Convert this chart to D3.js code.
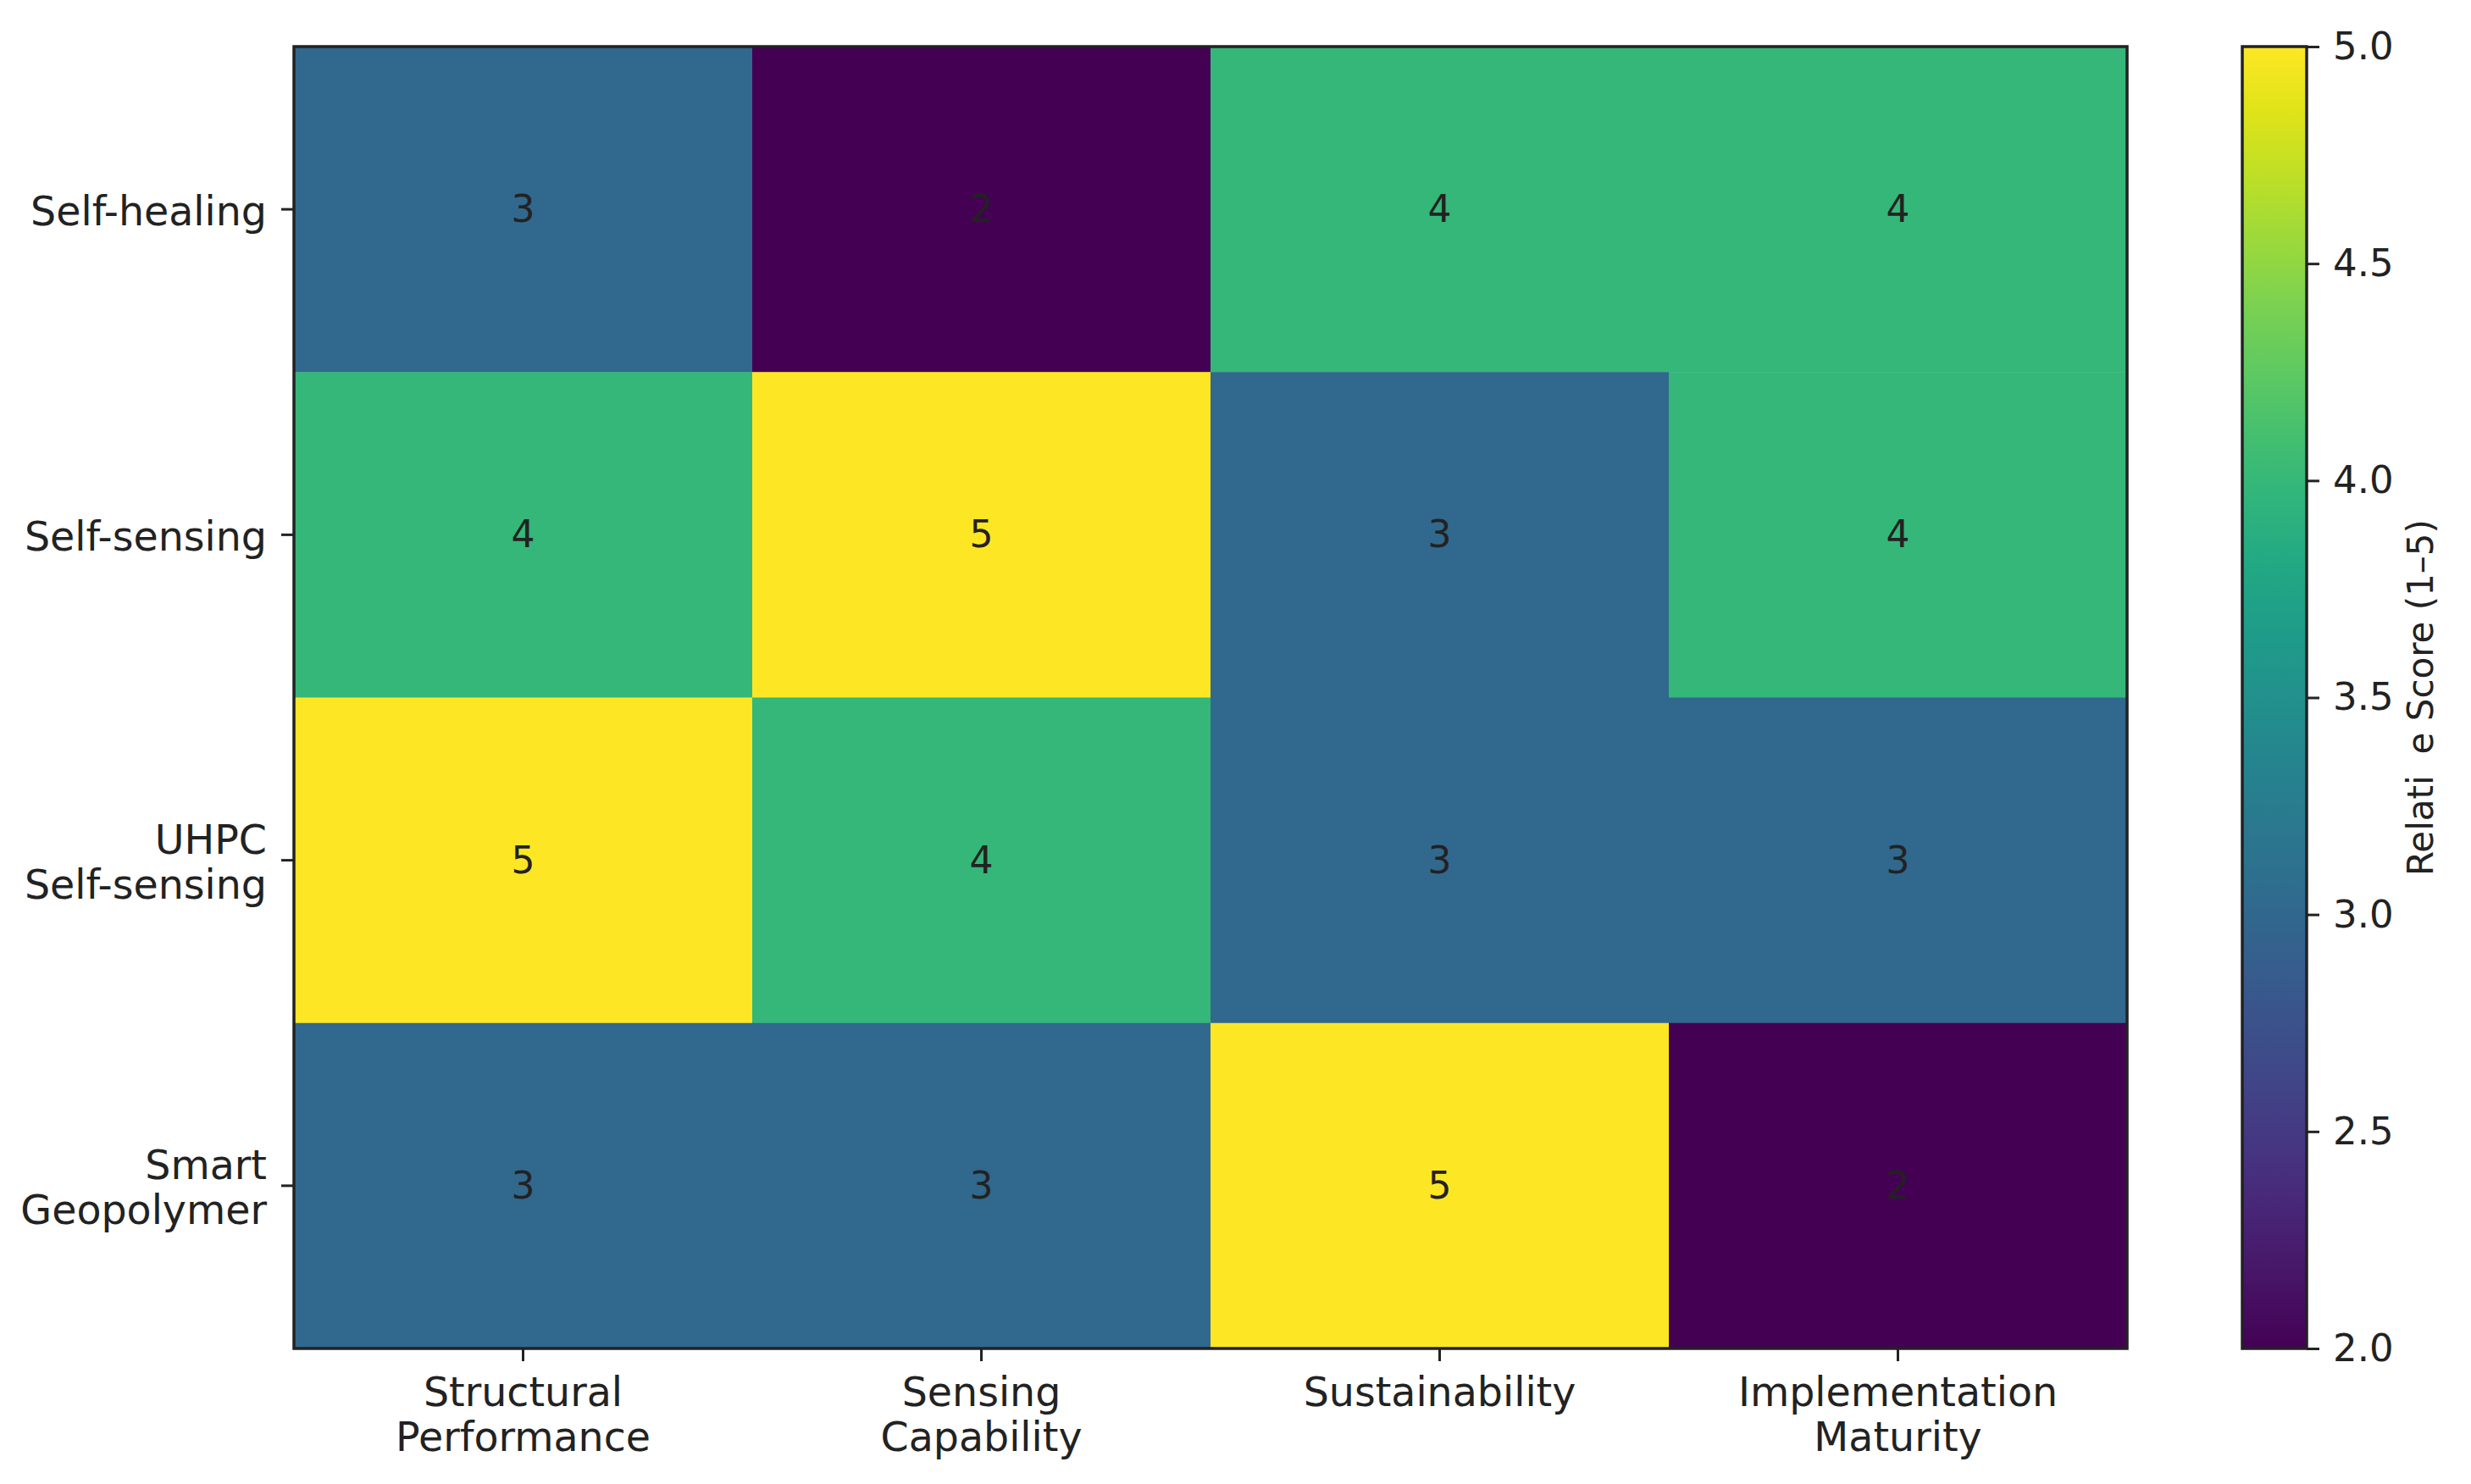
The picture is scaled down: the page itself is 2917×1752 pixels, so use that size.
<!doctype html>
<html lang="en">
<head>
    <meta charset="UTF-8" />
    <title>Concrete Technology Scores</title>
    <script src="https://d3js.org/d3.v7.min.js"></script>
    <style>
        body, html {
            margin: 0;
            padding: 0;
            background: white;
            overflow: hidden;
        }

        svg {
            display: block;
            font-family: "DejaVu Sans", sans-serif;
        }

        .tick-label {
            fill: #222;
            font-size: 47.5px;
        }

        .cell-text {
            fill: #222;
            font-size: 44px;
        }
    </style>
</head>
<body>
    <svg id="chart"></svg>

    <script>
        // data
        const materials = ["Self-healing", "Self-sensing", "UHPC\nSelf-sensing", "Smart\nGeopolymer"];
        const criteria = ["Structural\nPerformance", "Sensing\nCapability", "Sustainability", "Implementation\nMaturity"];
        const scores = [
            [3, 2, 4, 4],
            [4, 5, 3, 4],
            [5, 4, 3, 3],
            [3, 3, 5, 2]
        ];
        const colorTicks = [2.0, 2.5, 3.0, 3.5, 4.0, 4.5, 5.0];

        const width = 2917;
        const height = 1752;
        const plot = { left: 347, right: 2511, top: 55, bottom: 1592 };
        const bar = { left: 2647, right: 2723 };
        const ink = "#222";

        const svg = d3.select("#chart")
            .attr("width", width)
            .attr("height", height);

        const x = d3.scaleBand()
            .domain(d3.range(criteria.length))
            .range([plot.left, plot.right]);

        const y = d3.scaleBand()
            .domain(d3.range(materials.length))
            .range([plot.top, plot.bottom]);

        const color = d3.scaleSequential(d3.interpolateViridis).domain([2, 5]);

        const cells = [];
        scores.forEach((row, i) => row.forEach((v, j) => cells.push({ i, j, v })));

        svg.append("g")
            .selectAll("rect")
            .data(cells)
            .join("rect")
            .attr("x", d => x(d.j))
            .attr("y", d => y(d.i))
            .attr("width", x.bandwidth() + 0.5)
            .attr("height", y.bandwidth() + 0.5)
            .attr("fill", d => color(d.v));

        svg.append("g")
            .selectAll("text")
            .data(cells)
            .join("text")
            .attr("class", "cell-text")
            .attr("x", d => x(d.j) + x.bandwidth() / 2)
            .attr("y", d => y(d.i) + y.bandwidth() / 2 + 15)
            .attr("text-anchor", "middle")
            .text(d => d.v);

        // frame
        svg.append("rect")
            .attr("x", plot.left)
            .attr("y", plot.top)
            .attr("width", plot.right - plot.left)
            .attr("height", plot.bottom - plot.top)
            .attr("fill", "none")
            .attr("stroke", ink)
            .attr("stroke-width", 3.5);

        // y axis ticks + labels
        const yTicks = svg.append("g");
        materials.forEach((name, i) => {
            const cy = y(i) + y.bandwidth() / 2;
            yTicks.append("line")
                .attr("x1", plot.left - 15).attr("x2", plot.left)
                .attr("y1", cy).attr("y2", cy)
                .attr("stroke", ink).attr("stroke-width", 3);
            const lines = name.split("\n");
            const t = yTicks.append("text")
                .attr("class", "tick-label")
                .attr("text-anchor", "end");
            lines.forEach((ln, k) => {
                t.append("tspan")
                    .attr("x", plot.left - 32)
                    .attr("y", cy + 19 + (k - (lines.length - 1) / 2) * 53)
                    .text(ln);
            });
        });

        // x axis ticks + labels
        const xTicks = svg.append("g");
        criteria.forEach((name, j) => {
            const cx = x(j) + x.bandwidth() / 2;
            xTicks.append("line")
                .attr("x1", cx).attr("x2", cx)
                .attr("y1", plot.bottom).attr("y2", plot.bottom + 15)
                .attr("stroke", ink).attr("stroke-width", 3);
            const t = xTicks.append("text")
                .attr("class", "tick-label")
                .attr("text-anchor", "middle");
            name.split("\n").forEach((ln, k) => {
                t.append("tspan")
                    .attr("x", cx)
                    .attr("y", plot.bottom + 68 + k * 53)
                    .text(ln);
            });
        });

        // colorbar
        const cbY = d3.scaleLinear().domain([2, 5]).range([plot.bottom, plot.top]);

        const grad = svg.append("defs").append("linearGradient")
            .attr("id", "viridis")
            .attr("x1", 0).attr("y1", 1).attr("x2", 0).attr("y2", 0);
        d3.range(0, 1.0001, 0.05).forEach(t => {
            grad.append("stop")
                .attr("offset", t)
                .attr("stop-color", d3.interpolateViridis(t));
        });

        svg.append("rect")
            .attr("x", bar.left)
            .attr("y", plot.top)
            .attr("width", bar.right - bar.left)
            .attr("height", plot.bottom - plot.top)
            .attr("fill", "url(#viridis)")
            .attr("stroke", ink)
            .attr("stroke-width", 3.5);

        const cbAxis = svg.append("g")
            .attr("transform", `translate(${bar.right},0)`)
            .call(d3.axisRight(cbY).tickValues(colorTicks).tickFormat(d3.format(".1f")).tickSize(15).tickPadding(16));
        cbAxis.select(".domain").remove();
        cbAxis.selectAll("line").attr("stroke", ink).attr("stroke-width", 3);
        cbAxis.selectAll("text")
            .attr("fill", ink)
            .attr("font-family", "DejaVu Sans")
            .attr("font-size", 45);

        const cbLabel = svg.append("text")
            .attr("transform", `translate(2872, ${(plot.top + plot.bottom) / 2}) rotate(-90)`)
            .attr("text-anchor", "middle")
            .attr("fill", ink)
            .attr("font-size", 42);
        cbLabel.append("tspan").text("Relati");
        cbLabel.append("tspan").attr("fill-opacity", 0).text("v");
        cbLabel.append("tspan").text("e Score (1–5)");
    </script>
</body>
</html>
